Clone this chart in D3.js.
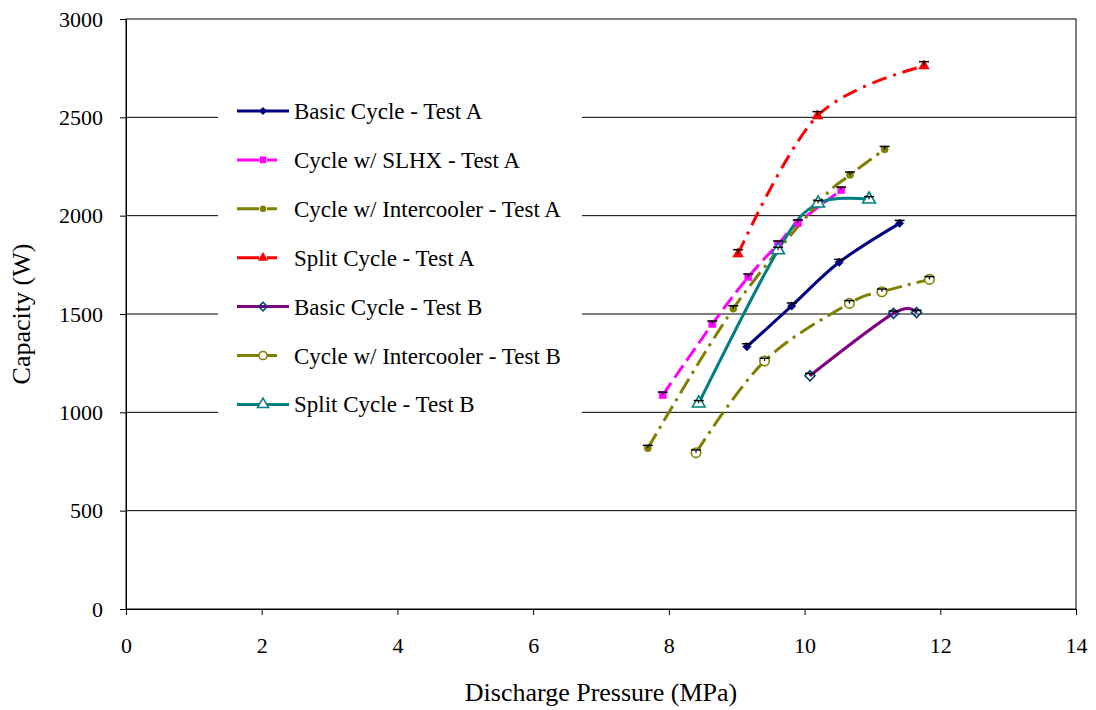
<!DOCTYPE html>
<html>
<head>
<meta charset="utf-8">
<script src="https://cdn.jsdelivr.net/npm/d3@7"></script>
<style>
  body { margin: 0; background: #fff; }
  text { font-family: "Liberation Serif", "Times New Roman", serif; fill: #000; }
</style>
</head>
<body>
<svg id="chart" width="1096" height="710"></svg>
<script>
// Capacity vs. discharge pressure for the tested cycle configurations
const xTicks = [0, 2, 4, 6, 8, 10, 12, 14];
const yTicks = [0, 500, 1000, 1500, 2000, 2500, 3000];

const seriesNames = [
  "Basic Cycle - Test A",
  "Cycle w/ SLHX - Test A",
  "Cycle w/ Intercooler - Test A",
  "Split Cycle - Test A",
  "Basic Cycle - Test B",
  "Cycle w/ Intercooler - Test B",
  "Split Cycle - Test B"
];

// Discharge pressure (MPa) and capacity (W) per series
const basicA_P = [9.15, 9.81, 10.51, 11.40];
const basicA_Q = [1334, 1541, 1763, 1961];
const slhxA_P = [7.91, 8.64, 9.17, 9.61, 9.90, 10.54];
const slhxA_Q = [1088, 1449, 1688, 1856, 1963, 2130];
const interA_P = [7.69, 8.95, 10.20, 10.67, 11.18];
const interA_Q = [817, 1527, 2063, 2207, 2337];
const splitA_P = [9.02, 10.19, 11.76];
const splitA_Q = [1805, 2507, 2761];
const basicB_P = [10.08, 11.31, 11.65];
const basicB_Q = [1186, 1503, 1507];
const interB_P = [8.40, 9.41, 10.66, 11.14, 11.84];
const interB_Q = [795, 1261, 1554, 1613, 1676];
const splitB_P = [8.44, 9.61, 10.20, 10.95];
const splitB_Q = [1046, 1825, 2063, 2083];

// Upper measurement uncertainty (W)
const basicA_err = [15, 15, 15, 15];
const slhxA_err = [15, 15, 15, 15, 15, 15];
const interA_err = [15, 15, 15, 15, 15];
const splitA_err = [22, 22, 22];
const basicB_err = [12, 12, 12];
const interB_err = [14, 14, 14, 14, 14];
const splitB_err = [14, 14, 14, 14];

const zip = (xs, ys, es) => xs.map((x, i) => ({ x, y: ys[i], e: es[i] }));

// Square diamond (a square turned 45 degrees)
const symbolRhomb = {
  draw(ctx, size) {
    const r = Math.sqrt(size / 2);
    ctx.moveTo(0, -r); ctx.lineTo(r, 0); ctx.lineTo(0, r); ctx.lineTo(-r, 0); ctx.closePath();
  }
};

const series = [
  { name: seriesNames[0], pts: zip(basicA_P, basicA_Q, basicA_err), color: "#000080", dash: null,
    sym: symbolRhomb, size: 36, fill: "#000080", stroke: "#000080" },
  { name: seriesNames[1], pts: zip(slhxA_P, slhxA_Q, slhxA_err), color: "#FF00FF", dash: "15,6",
    sym: d3.symbolSquare, size: 50, fill: "#FF00FF", stroke: "#FF00FF" },
  { name: seriesNames[2], pts: zip(interA_P, interA_Q, interA_err), color: "#808000", dash: "17,6,3,6",
    sym: d3.symbolCircle, size: 40, fill: "#808000", stroke: "#808000" },
  { name: seriesNames[3], pts: zip(splitA_P, splitA_Q, splitA_err), color: "#FF0000", dash: "15,7,3,7",
    sym: d3.symbolTriangle, size: 50, fill: "#FF0000", stroke: "#FF0000" },
  { name: seriesNames[4], pts: zip(basicB_P, basicB_Q, basicB_err), color: "#800080", dash: null,
    sym: symbolRhomb, size: 50, fill: "none", stroke: "#003f7f" },
  { name: seriesNames[5], pts: zip(interB_P, interB_Q, interB_err), color: "#808000", dash: "17,6,3,6",
    sym: d3.symbolCircle, size: 70, fill: "#ffffff", stroke: "#808000" },
  { name: seriesNames[6], pts: zip(splitB_P, splitB_Q, splitB_err), color: "#008080", dash: null,
    sym: d3.symbolTriangle, size: 70, fill: "#ffffff", stroke: "#008080" }
];

const svg = d3.select("#chart");
const plot = { left: 126, right: 1076, top: 19, bottom: 609 };

const x = d3.scaleLinear().domain([0, 14]).range([plot.left, plot.right]);
const y = d3.scaleLinear().domain([0, 3000]).range([plot.bottom, plot.top]);

// Horizontal gridlines
svg.append("g")
  .selectAll("line")
  .data(yTicks.filter(v => v > 0 && v < 3000))
  .join("line")
  .attr("x1", plot.left).attr("x2", plot.right)
  .attr("y1", d => y(d)).attr("y2", d => y(d))
  .attr("stroke", "#000").attr("stroke-width", 1);

// Plot frame
svg.append("rect")
  .attr("x", plot.left).attr("y", plot.top)
  .attr("width", plot.right - plot.left).attr("height", plot.bottom - plot.top)
  .attr("fill", "none").attr("stroke", "#000").attr("stroke-width", 1);

// Axes
const xAxis = svg.append("g")
  .attr("transform", `translate(0,${plot.bottom})`)
  .call(d3.axisBottom(x).tickValues(xTicks).tickFormat(d3.format("d")).tickSizeInner(6).tickSizeOuter(0).tickPadding(22));
const yAxis = svg.append("g")
  .attr("transform", `translate(${plot.left},0)`)
  .call(d3.axisLeft(y).tickValues(yTicks).tickFormat(d3.format("d")).tickSizeInner(6).tickSizeOuter(0).tickPadding(17));
[xAxis, yAxis].forEach(g => {
  g.attr("font-family", null);
  g.select(".domain").attr("stroke", "#000");
  g.selectAll(".tick line").attr("stroke", "#000");
  g.selectAll(".tick text")
    .style("font-family", "'Liberation Serif', 'Times New Roman', serif")
    .style("font-size", "22px").attr("fill", "#000");
});

// Axis titles
svg.append("text")
  .attr("x", (plot.left + plot.right) / 2).attr("y", 701)
  .attr("text-anchor", "middle").style("font-size", "26px")
  .text("Discharge Pressure (MPa)");
svg.append("text")
  .attr("transform", `translate(30,${(plot.top + plot.bottom) / 2}) rotate(-90)`)
  .attr("text-anchor", "middle").style("font-size", "26px")
  .text("Capacity (W)");

// Series lines, smoothed
const line = d3.line()
  .x(d => x(d.x)).y(d => y(d.y))
  .curve(d3.curveCardinal.tension(0));

const gSeries = svg.append("g");
series.forEach(s => {
  gSeries.append("path")
    .datum(s.pts)
    .attr("d", line)
    .attr("fill", "none")
    .attr("stroke", s.color)
    .attr("stroke-width", 3)
    .attr("stroke-dasharray", s.dash);
});

// Markers and error bars
series.forEach(s => {
  const g = gSeries.append("g");
  g.selectAll("path")
    .data(s.pts)
    .join("path")
    .attr("transform", d => `translate(${x(d.x)},${y(d.y)})`)
    .attr("d", d3.symbol().type(s.sym).size(s.size))
    .attr("fill", s.fill)
    .attr("stroke", s.stroke)
    .attr("stroke-width", s.fill === s.stroke ? 0.5 : 1.6);
  const eb = g.selectAll("g.eb").data(s.pts).join("g").attr("class", "eb");
  eb.append("line")
    .attr("x1", d => x(d.x)).attr("x2", d => x(d.x))
    .attr("y1", d => y(d.y)).attr("y2", d => y(d.y + d.e))
    .attr("stroke", "#000").attr("stroke-width", 1.2);
  eb.append("line")
    .attr("x1", d => x(d.x) - 5).attr("x2", d => x(d.x) + 5)
    .attr("y1", d => y(d.y + d.e)).attr("y2", d => y(d.y + d.e))
    .attr("stroke", "#000").attr("stroke-width", 1.5);
});

// Legend
const legend = svg.append("g");
legend.append("rect")
  .attr("x", 218).attr("y", 86).attr("width", 364).attr("height", 344)
  .attr("fill", "#fff");
const rowY = i => 111 + i * 48.9;
series.forEach((s, i) => {
  const cy = rowY(i);
  legend.append("line")
    .attr("x1", 237).attr("x2", 289).attr("y1", cy).attr("y2", cy)
    .attr("stroke", s.color).attr("stroke-width", 3)
    .attr("stroke-dasharray", s.dash ? "22,8,10,20" : null);
  legend.append("path")
    .attr("transform", `translate(263,${cy})`)
    .attr("d", d3.symbol().type(s.sym).size(s.size * 0.75))
    .attr("fill", s.fill).attr("stroke", s.stroke)
    .attr("stroke-width", s.fill === s.stroke ? 0.5 : 1.5);
  legend.append("text")
    .attr("x", 294).attr("y", cy + 8)
    .style("font-size", "23px")
    .text(s.name);
});
</script>
</body>
</html>
